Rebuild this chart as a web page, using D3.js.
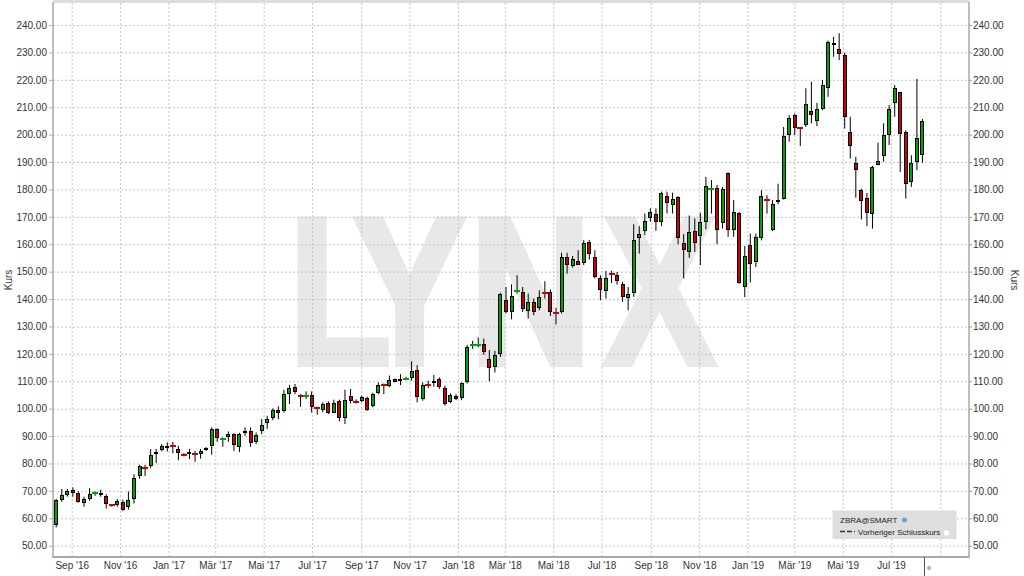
<!DOCTYPE html>
<html><head><meta charset="utf-8">
<script src="https://cdn.jsdelivr.net/npm/d3@7"></script>
<style>
html,body{margin:0;padding:0;background:#fff;}
svg{display:block;font-family:"Liberation Sans",Arial,sans-serif;}
</style></head><body>
<svg id="c" width="1024" height="576"></svg>
<script>
// ---------------- data ----------------
const firstWeek = [2016, 7, 12]; // first weekly candle (Fri, 12 Aug 2016)
const openV = [
57.5,66.6,68.6,70.2,69.3,65.4,67.1,69.1,69.3,68.2,
64.8,64.9,65.9,64.0,67.2,75.4,78.4,79.0,83.4,85.0,
86.5,86.3,85.3,83.3,83.3,83.5,83.3,85.0,86.2,92.6,
88.9,89.6,90.6,86.1,91.0,91.7,87.8,91.9,94.6,96.6,
99.4,99.0,105.3,107.8,104.9,104.7,105.1,100.2,99.5,102.0,
98.6,102.7,96.6,104.8,102.6,102.9,103.9,100.8,105.9,108.6,
108.3,110.7,110.2,110.9,111.2,114.0,103.7,108.8,109.3,110.9,
107.5,102.5,104.7,103.9,109.9,123.1,123.1,123.6,118.0,115.3,
119.8,139.8,135.3,142.8,142.6,135.7,138.8,136.6,142.4,142.6,
134.9,135.3,155.2,152.1,153.8,153.0,160.9,155.4,147.6,143.0,
149.4,148.7,145.4,140.5,142.3,162.1,164.9,169.5,171.2,168.2,
177.7,174.2,177.3,160.6,157.0,164.8,163.1,168.2,180.2,180.7,
167.8,185.9,165.3,171.3,144.4,159.6,153.5,162.4,176.2,165.1,
175.3,176.5,199.8,207.1,202.4,203.5,208.7,205.0,209.5,216.9,
233.4,231.4,229.0,200.8,189.8,179.7,176.9,171.2,189.0,192.1,
200.0,211.4,215.4,200.8,182.8,190.1,192.5];
const highV = [
67.0,70.7,70.7,71.3,69.8,67.9,71.0,69.8,70.4,68.8,
65.2,67.0,66.8,69.8,76.1,79.5,79.5,85.3,85.3,87.1,
87.7,87.9,86.5,83.8,85.3,84.6,85.3,86.0,93.2,92.8,
89.5,91.7,91.0,91.2,93.2,93.2,91.3,96.2,97.4,100.1,
100.9,106.9,108.7,109.0,105.3,106.3,106.3,100.7,102.3,102.7,
103.3,103.3,106.9,107.2,103.4,104.7,104.4,105.8,109.6,109.2,
112.1,111.0,112.6,111.7,117.3,115.9,109.6,110.2,112.3,111.4,
108.4,105.6,105.3,109.6,123.3,124.8,126.0,125.6,121.4,121.1,
142.3,144.4,145.4,148.7,144.4,142.0,140.2,143.2,146.5,143.5,
136.8,156.9,156.9,155.7,157.8,161.5,161.5,157.8,148.7,150.3,
150.3,149.9,146.3,144.4,167.3,166.6,171.2,173.1,173.1,179.2,
179.2,178.8,177.6,163.7,170.5,169.4,171.5,184.6,183.4,181.6,
180.9,186.2,176.1,171.7,159.4,163.9,163.9,179.7,177.9,176.1,
182.1,202.8,207.1,207.7,202.8,216.9,219.3,211.6,219.9,234.3,
235.7,237.0,229.9,206.5,191.9,180.3,178.7,188.6,197.1,204.1,
210.8,218.1,215.6,201.6,192.5,220.3,205.7];
const lowV = [
56.7,66.0,67.9,67.9,65.7,64.2,66.4,68.2,67.9,63.6,
64.2,64.2,62.6,63.2,65.4,74.4,75.4,78.3,80.1,84.4,
84.4,83.7,81.2,82.6,81.6,80.6,81.8,84.6,83.2,87.9,
86.1,87.9,84.6,84.2,90.1,86.1,87.1,90.7,92.6,95.8,
96.2,98.6,101.7,105.3,100.7,103.5,98.6,97.8,98.6,98.0,
98.4,95.4,94.4,101.9,101.9,102.3,99.2,100.5,105.3,105.3,
107.8,109.6,108.6,110.4,110.2,102.3,102.9,107.5,108.0,107.2,
101.1,102.0,103.1,103.1,109.2,121.8,122.4,119.7,110.0,113.2,
118.9,134.7,132.6,142.0,135.3,132.9,134.1,135.9,140.2,133.8,
130.7,134.7,149.3,151.5,152.4,152.4,154.4,147.5,139.6,140.2,
145.9,145.3,139.0,135.9,140.8,156.6,163.3,168.2,164.9,166.6,
171.2,171.2,160.0,147.5,155.0,157.2,152.4,165.4,171.2,160.0,
165.7,162.7,162.7,145.6,140.7,146.0,151.7,161.4,171.2,164.8,
174.6,176.3,197.4,199.8,195.8,202.8,204.1,203.1,208.9,213.8,
228.4,227.2,202.2,191.3,177.0,169.0,166.6,165.7,188.8,190.1,
196.2,206.5,186.4,176.7,180.9,187.0,189.8];
const closeV = [
66.6,68.6,70.0,69.3,66.0,66.9,68.7,69.3,68.7,65.2,
64.6,66.2,63.0,66.6,74.7,78.9,78.0,83.1,84.3,86.2,
86.0,86.1,83.8,83.1,84.2,83.3,84.6,85.6,92.6,89.3,
89.1,90.6,86.7,90.7,91.8,87.3,90.5,94.1,96.2,99.5,
98.5,105.3,107.5,106.1,104.6,104.9,100.5,100.0,101.7,98.5,
102.0,96.6,103.1,102.9,102.4,104.1,99.5,105.3,108.6,108.4,
110.5,109.9,111.0,111.1,113.8,104.1,108.6,108.6,110.2,107.8,
101.7,105.0,103.7,109.2,122.6,123.3,123.3,120.8,114.8,119.7,
141.8,135.2,141.0,143.0,136.5,138.8,135.4,140.8,142.1,135.1,
134.6,155.2,152.6,154.6,152.6,160.5,156.3,147.9,143.2,147.7,
149.2,146.5,140.8,142.0,161.7,163.6,168.6,171.6,168.0,178.6,
175.1,176.6,162.1,157.8,164.5,160.6,168.0,181.4,180.4,165.2,
180.1,165.3,171.7,146.0,155.7,152.9,162.8,177.5,176.0,174.8,
176.3,199.4,206.1,202.5,202.1,211.0,207.1,209.3,218.1,233.7,
232.6,229.3,206.3,195.9,187.0,175.7,171.5,188.2,190.4,199.8,
209.2,216.9,200.4,182.1,189.5,198.8,204.9];
const xTickLabels = ["Sep '16","Nov '16","Jan '17","Mär '17","Mai '17","Jul '17","Sep '17","Nov '17",
  "Jan '18","Mär '18","Mai '18","Jul '18","Sep '18","Nov '18","Jan '19","Mär '19","Mai '19","Jul '19"];
const yTickValues = [50,60,70,80,90,100,110,120,130,140,150,160,170,180,190,200,210,220,230,240];
const axisTitle = "Kurs";
const legendTitle = "ZBRA@SMART";
const legendItem = "Vorheriger Schlusskurs";
const watermarkText = "LYNX";

// ---------------- layout ----------------
const W = 1024, H = 576;
const plotL = 53, plotR = 969, plotT = 2, plotB = 557;
const green = "#00a300", red = "#cc0000";

const svg = d3.select("#c");

const candles = openV.map((o, i) => ({
  date: d3.timeDay.offset(new Date(firstWeek[0], firstWeek[1], firstWeek[2], 12), 7 * i),
  o, h: highV[i], l: lowV[i], c: closeV[i]
}));

const x = d3.scaleTime()
  .domain([new Date(2016, 8, 1), new Date(2019, 8, 1)])
  .range([71.7, 940.3]);
const y = d3.scaleLinear().domain([50, 240]).range([545.7, 25]);

const gridDates = d3.timeMonth.every(2).range(new Date(2016, 8, 1), new Date(2019, 8, 2));

// watermark (single text element, letters kerned with dx)
svg.append("g").attr("transform", "scale(0.8,1)")
  .append("text")
  .attr("x", 360.8)
  .attr("y", 364)
  .attr("dx", "0 -27.9 5.4 15.4")
  .attr("font-family", "Liberation Sans, Arial, sans-serif")
  .attr("font-weight", "bold")
  .attr("font-size", 210)
  .attr("fill", "#e8e8e8")
  .attr("stroke", "#e8e8e8")
  .attr("stroke-width", 6)
  .attr("stroke-linejoin", "miter")
  .text(watermarkText);

// top band
svg.append("line").attr("x1", plotL).attr("x2", plotR).attr("y1", 1.5).attr("y2", 1.5)
  .attr("stroke", "#dddddd").attr("stroke-width", 3);

// horizontal grid
const gy = svg.append("g").attr("transform", `translate(${plotL},0)`)
  .call(d3.axisLeft(y).tickValues(yTickValues).tickSize(-(plotR - plotL)).tickFormat(""));
gy.select(".domain").remove();
gy.selectAll(".tick line").attr("stroke", "#c4c4c4").attr("stroke-dasharray", "2,2");

// vertical grid
const gx = svg.append("g").attr("transform", `translate(0,${plotB})`)
  .call(d3.axisBottom(x).tickValues(gridDates).tickSize(-(plotB - plotT)).tickFormat(""));
gx.select(".domain").remove();
gx.selectAll(".tick line").attr("stroke", "#c4c4c4").attr("stroke-dasharray", "2,2");

// candles
const cg = svg.append("g");
const bodyW = 4;
candles.forEach(d => {
  const cx = x(d.date);
  const up = d.c >= d.o;
  cg.append("line")
    .attr("x1", cx).attr("x2", cx)
    .attr("y1", y(d.h)).attr("y2", y(d.l))
    .attr("stroke", "#000").attr("stroke-width", 1);
  const rx = Math.round(cx);
  if (Math.abs(d.c - d.o) < 0.5) {
    const yy = Math.round(y((d.o + d.c) / 2));
    cg.append("rect").attr("x", rx - 3).attr("y", yy - 1).attr("width", 6).attr("height", 2)
      .attr("fill", up ? green : red);
  } else {
    const yt = Math.round(y(Math.max(d.o, d.c)));
    const yb = Math.round(y(Math.min(d.o, d.c)));
    cg.append("rect")
      .attr("x", rx - bodyW / 2 + 0.5).attr("y", yt + 0.5)
      .attr("width", bodyW - 1).attr("height", Math.max(1, yb - yt - 1))
      .attr("fill", up ? green : red)
      .attr("stroke", "#000").attr("stroke-width", 1);
  }
});

// axes frame
svg.append("line").attr("x1", plotL).attr("x2", plotL).attr("y1", plotT).attr("y2", plotB + 1)
  .attr("stroke", "#a8a8a8").attr("stroke-width", 1.5);
svg.append("line").attr("x1", plotR).attr("x2", plotR).attr("y1", plotT).attr("y2", plotB + 1)
  .attr("stroke", "#a8a8a8").attr("stroke-width", 1.5);
svg.append("line").attr("x1", plotL).attr("x2", plotR).attr("y1", plotB).attr("y2", plotB)
  .attr("stroke", "#a8a8a8").attr("stroke-width", 2);

// y axes labels
const yl = svg.append("g").attr("transform", `translate(${plotL},0)`)
  .call(d3.axisLeft(y).tickValues(yTickValues).tickSize(4).tickPadding(2).tickFormat(d3.format(".2f")));
yl.select(".domain").remove();
yl.selectAll(".tick line").attr("stroke", "#b0b0b0");
yl.selectAll(".tick text").attr("font-size", 10).attr("fill", "#333")
  .attr("font-family", "Liberation Sans, Arial, sans-serif");

const yr = svg.append("g").attr("transform", `translate(${plotR},0)`)
  .call(d3.axisRight(y).tickValues(yTickValues).tickSize(3).tickPadding(1).tickFormat(d3.format(".2f")));
yr.select(".domain").remove();
yr.selectAll(".tick line").attr("stroke", "#999");
yr.selectAll(".tick text").attr("font-size", 10).attr("fill", "#333")
  .attr("font-family", "Liberation Sans, Arial, sans-serif");

// x axis labels
const xl = svg.append("g").attr("transform", `translate(0,${plotB})`)
  .call(d3.axisBottom(x).tickValues(gridDates).tickSize(0).tickPadding(5)
    .tickFormat((d, i) => xTickLabels[i] || ""));
xl.select(".domain").remove();
xl.selectAll(".tick text").attr("font-size", 10).attr("fill", "#333")
  .attr("font-family", "Liberation Sans, Arial, sans-serif");

// axis titles
svg.append("text").attr("transform", "translate(12,280) rotate(-90)")
  .attr("text-anchor", "middle").attr("font-size", 10).attr("fill", "#333").text(axisTitle);
svg.append("text").attr("transform", "translate(1010.5,280) rotate(90)")
  .attr("text-anchor", "middle").attr("font-size", 10).attr("fill", "#333").text(axisTitle);

// bottom-right marker
svg.append("line").attr("x1", 924.5).attr("x2", 924.5).attr("y1", plotB).attr("y2", 576)
  .attr("stroke", "#555").attr("stroke-width", 1);
svg.append("path").attr("d", "M929,565.5 L931.5,568 L929,570.5 L926.5,568 Z").attr("fill", "#aaa");

// legend
const lg = svg.append("g");
lg.append("rect").attr("x", 832.5).attr("y", 510.5).attr("width", 124).attr("height", 28.5)
  .attr("fill", "#dedede");
lg.append("text").attr("x", 840).attr("y", 522.5).attr("font-size", 8).attr("fill", "#222").text(legendTitle);
lg.append("circle").attr("cx", 904.5).attr("cy", 520).attr("r", 2.5).attr("fill", "#6a9fd8");
lg.append("line").attr("x1", 840).attr("x2", 855).attr("y1", 531.5).attr("y2", 531.5)
  .attr("stroke", "#333").attr("stroke-width", 1.3).attr("stroke-dasharray", "5,2");
lg.append("text").attr("x", 858).attr("y", 534.5).attr("font-size", 8).attr("fill", "#222").text(legendItem);
lg.append("rect").attr("x", 944).attr("y", 530.5).attr("width", 5).attr("height", 5)
  .attr("fill", "#fff").attr("stroke", "#e8e8e8").attr("stroke-width", 0.5);
</script>
</body></html>
